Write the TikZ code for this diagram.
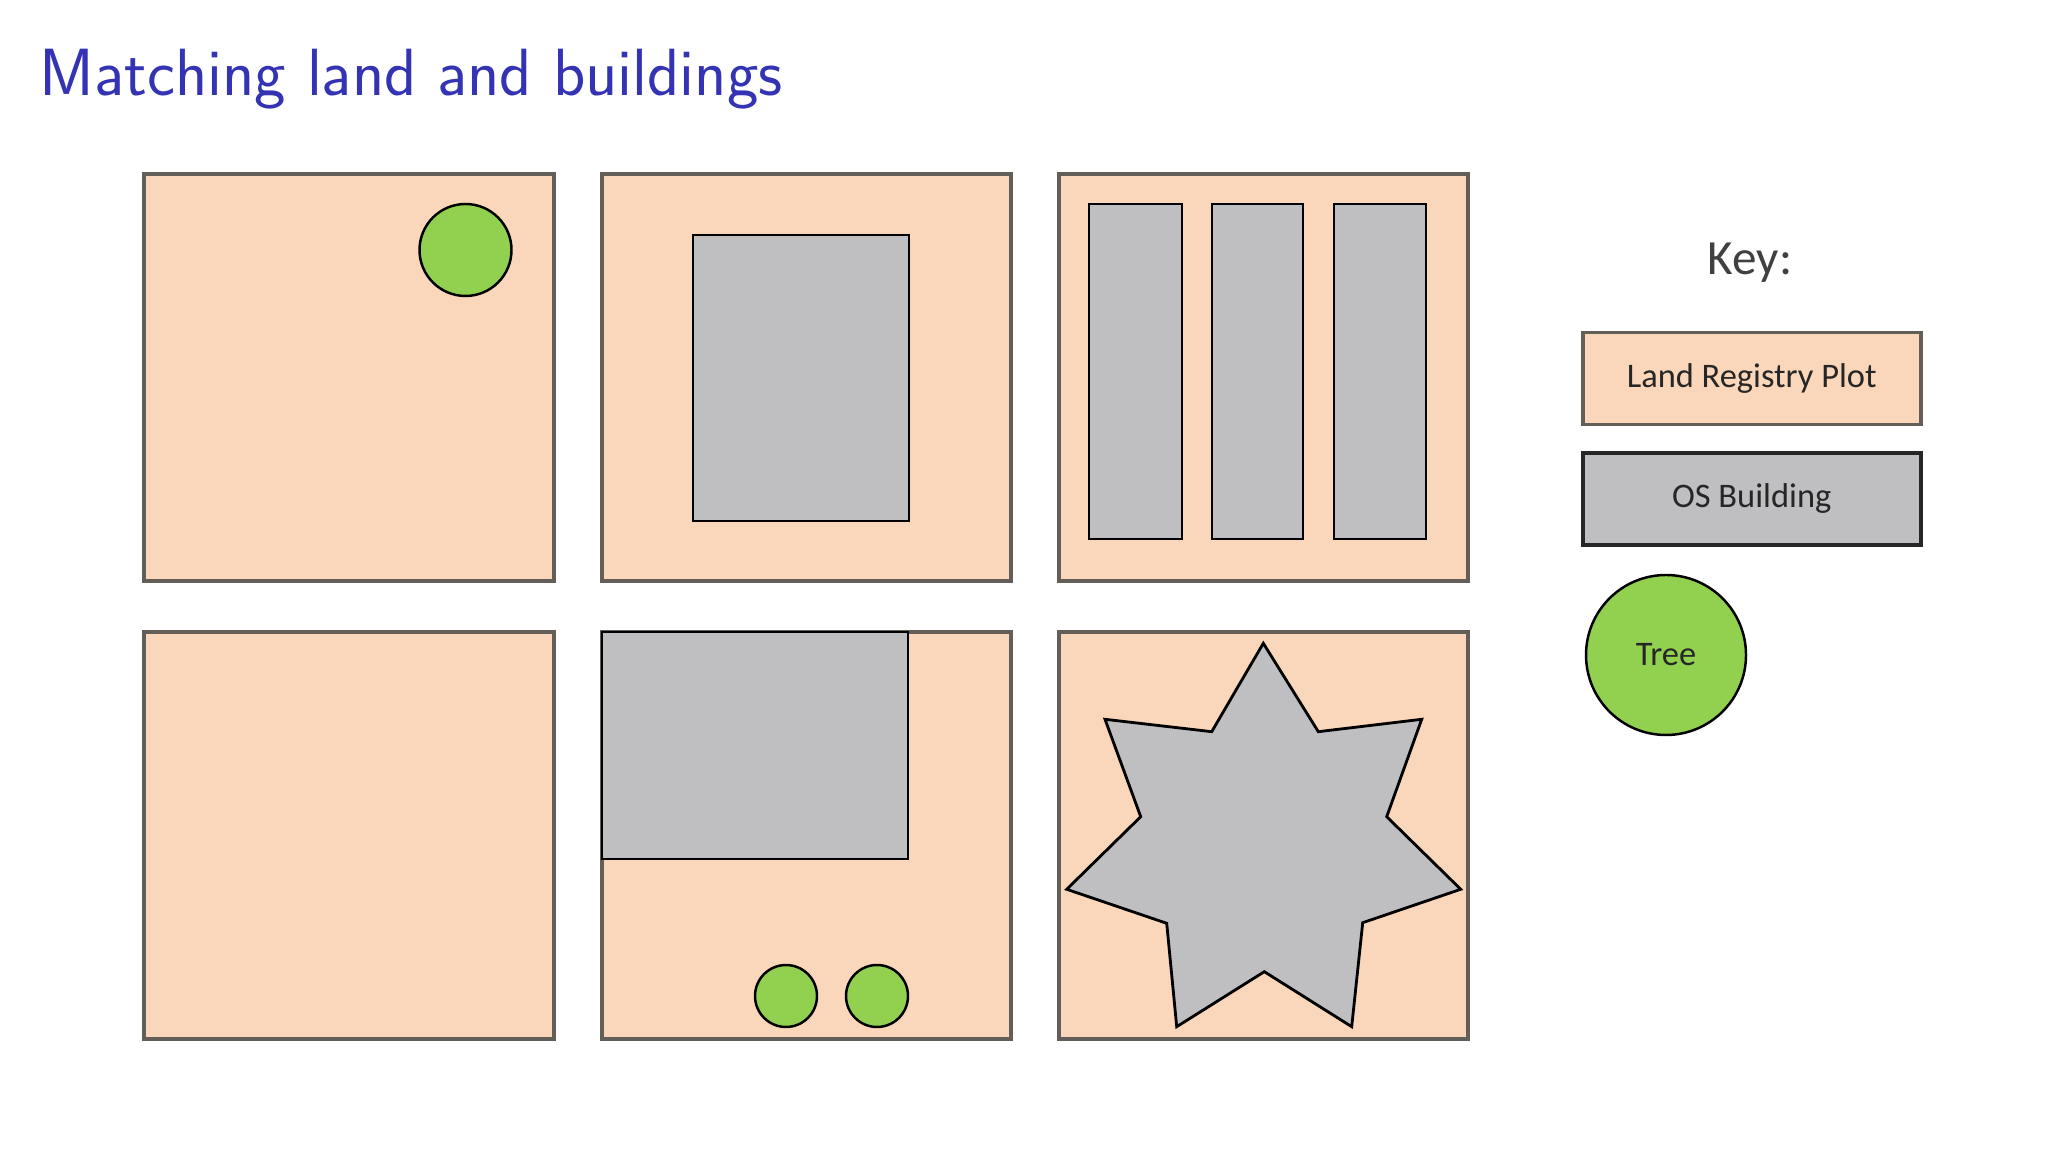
\documentclass[tikz,border=0pt]{standalone}
\usepackage{fontspec}
\newfontfamily\keyfont{Carlito}
\definecolor{titleblue}{RGB}{51,51,179}
\definecolor{plotfill}{RGB}{250,215,186}
\definecolor{plotline}{RGB}{100,94,88}
\definecolor{bldfill}{RGB}{191,191,193}
\definecolor{treefill}{RGB}{146,208,80}
\definecolor{keytext}{RGB}{64,64,64}
\tikzset{
  plot/.style={draw=plotline,fill=plotfill,line width=1.1pt},
  bld/.style={draw=black,fill=bldfill,line width=0.8pt,line join=miter},
  tree/.style={draw=black,fill=treefill,line width=0.7pt},
  keybox/.style={line width=1.1pt,minimum width=33.8mm,minimum height=9.2mm,inner sep=0pt,
    font=\keyfont\fontsize{9.8}{11}\selectfont,text=black!85},
}
\begin{document}
\begin{tikzpicture}[x=0.1mm,y=-0.1mm]
\useasboundingbox[fill=white] (0,0) rectangle (2048,1152);
% title
\node[anchor=base west,inner sep=0pt,text=titleblue,font=\sffamily\fontsize{19}{23}\selectfont] (title) at (39,96) {Matching land and buildings};
% plot 1
\draw[plot] (144,174) rectangle (554,581);
\draw[tree] (465.5,250) circle[radius=46];
% plot 2
\draw[plot] (602,174) rectangle (1011,581);
\draw[bld] (693,235) rectangle (909,521);
% plot 3
\draw[plot] (1059,174) rectangle (1468,581);
\draw[bld] (1089,204) rectangle (1182,539);
\draw[bld] (1212,204) rectangle (1303,539);
\draw[bld] (1334,204) rectangle (1426,539);
% plot 4
\draw[plot] (144,632) rectangle (554,1039);
% plot 5
\draw[plot] (602,632) rectangle (1011,1039);
\draw[bld] (602,632) rectangle (908,859);
\draw[tree] (786,996) circle[radius=31];
\draw[tree] (877,996) circle[radius=31];
% plot 6
\draw[plot] (1059,632) rectangle (1468,1039);
\draw[bld] (1263.3,643.3) -- (1318.3,731.7) -- (1421.7,719.3) -- (1386.7,816.7)
  -- (1460.7,889.3) -- (1362.7,922.7) -- (1351.7,1026.7) -- (1264.3,971.7)
  -- (1176.7,1026.7) -- (1166.7,923.3) -- (1066.7,889.3) -- (1140.7,816.7)
  -- (1105,719.3) -- (1211.7,731.7) -- cycle;
% key
\node[text=keytext,font=\keyfont\fontsize{14}{16}\selectfont,inner sep=0pt] (key) at (1750,263) {Key:};
\node[keybox,draw=plotline,fill=plotfill] (klr) at (1751.7,378.5) {Land Registry Plot};
\node[keybox,draw=black!85,fill=bldfill] (kos) at (1751.7,499) {OS Building};
\node[tree,circle,minimum size=16mm,inner sep=0pt,font=\keyfont\fontsize{9.8}{11}\selectfont,text=black!85] (ktree) at (1666,655) {Tree};
\end{tikzpicture}
\end{document}
